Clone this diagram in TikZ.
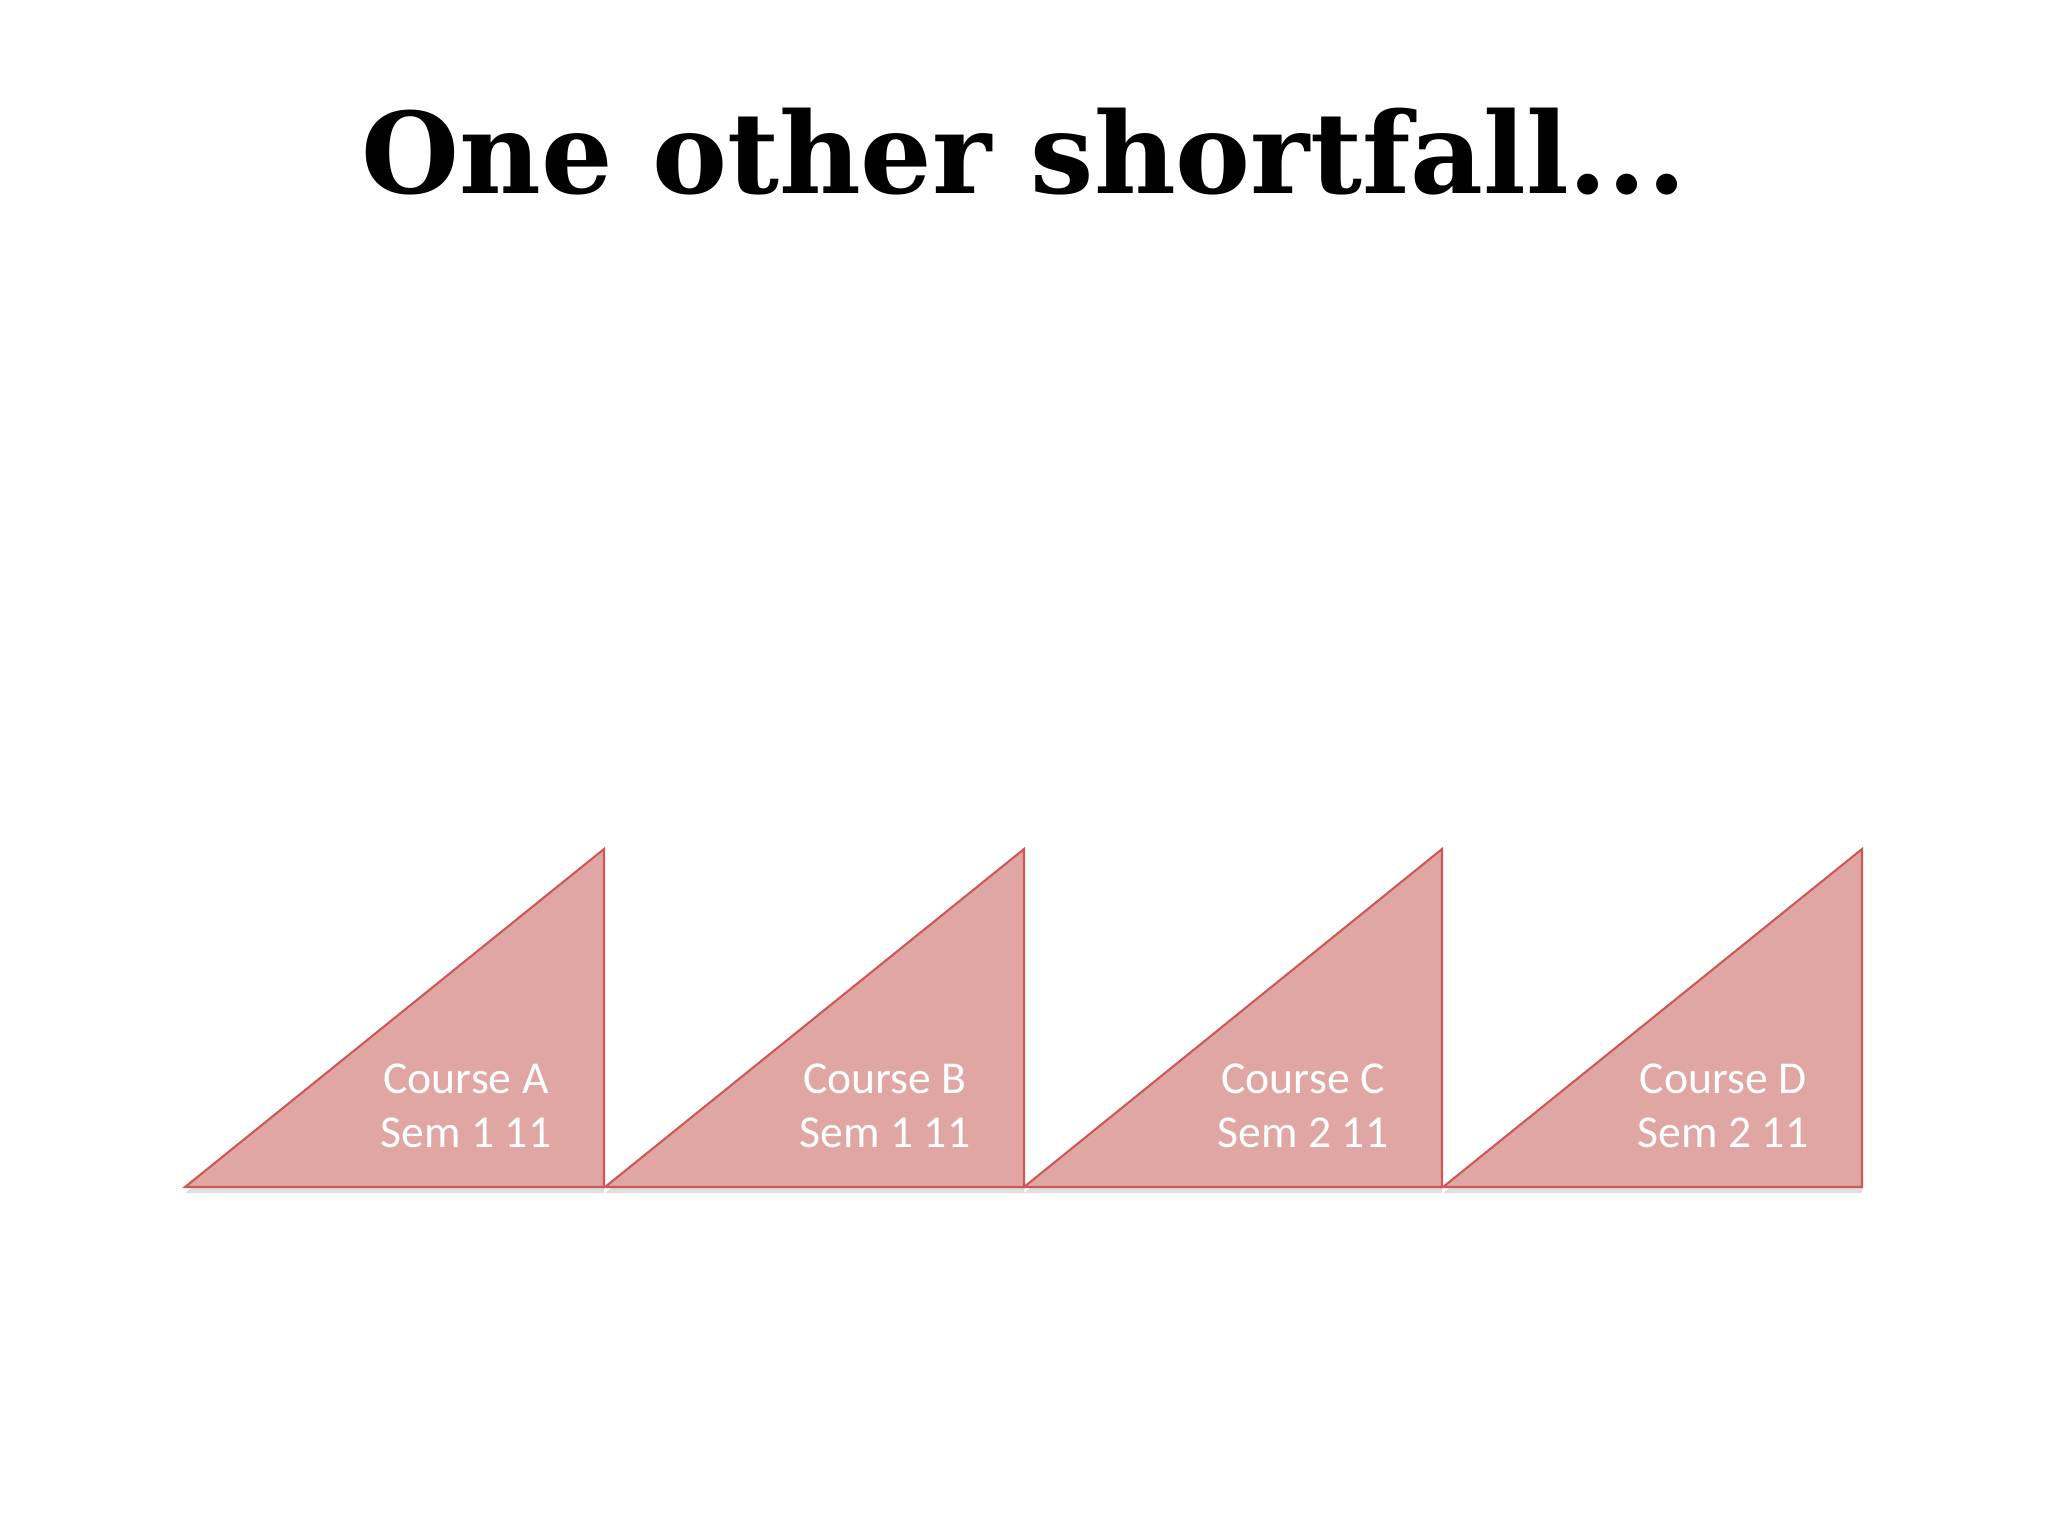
\documentclass[tikz,border=0pt]{standalone}
\usepackage{fontspec}
\setmainfont{Carlito}
\newfontfamily\titlefont{DejaVu Serif}
\usepackage{xcolor}
\usepackage{tikz}
\usetikzlibrary{shadows}
\definecolor{tri-fill}{RGB}{224,166,164}
\definecolor{tri-line}{RGB}{205,88,86}
\tikzset{
  % course triangles
  course-tri/.style={fill=tri-fill, draw=tri-line, line width=0.6pt, line join=miter,
    drop shadow={opacity=0.25, shadow xshift=0pt, shadow yshift=-0.6mm}},
  course-label/.style={text=white, font=\fontsize{13pt}{15.5pt}\selectfont, align=center, inner sep=0pt},
  slide-title/.style={font=\titlefont\bfseries\fontsize{32pt}{38pt}\selectfont, inner sep=0pt}
}

\begin{document}
\begin{tikzpicture}[x=0.1mm, y=-0.1mm]
    \useasboundingbox[fill=white] (0,0) rectangle (2048,1536);
    % Title
    \node[slide-title] (title) at (1024,152) {One other shortfall...};
    % Triangles
    \path[course-tri] (185,1187) -- (604,849) -- (604,1187) -- cycle;
    \path[course-tri] (605,1187) -- (1024,849) -- (1024,1187) -- cycle;
    \path[course-tri] (1024,1187) -- (1442,849) -- (1442,1187) -- cycle;
    \path[course-tri] (1443,1187) -- (1862,849) -- (1862,1187) -- cycle;
    % Labels
    \node[course-label] (courseA) at (466,1106) {Course A\\Sem 1 11};
    \node[course-label] (courseB) at (885,1106) {Course B\\Sem 1 11};
    \node[course-label] (courseC) at (1303,1106) {Course C\\Sem 2 11};
    \node[course-label] (courseD) at (1723,1106) {Course D\\Sem 2 11};
\end{tikzpicture}
\end{document}
